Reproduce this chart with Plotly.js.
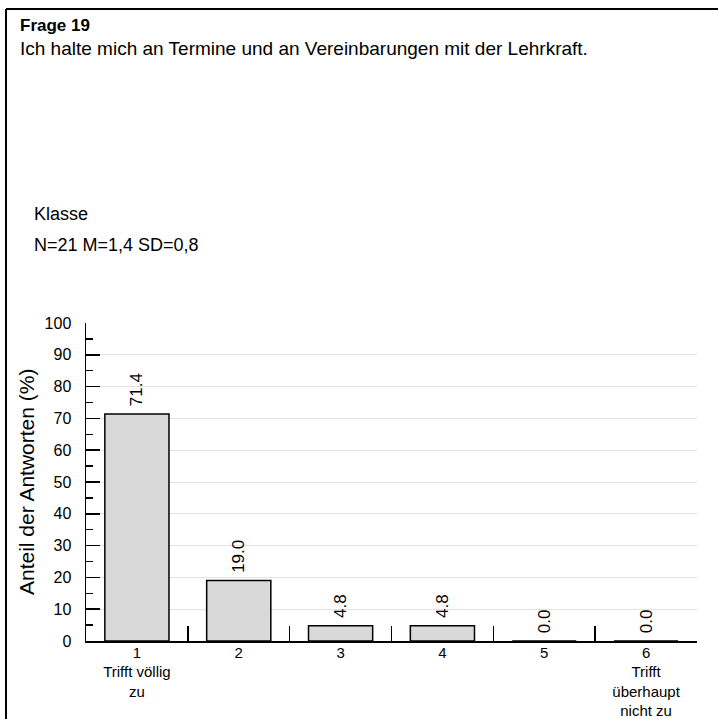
<!DOCTYPE html>
<html><head><meta charset="utf-8">
<script src="https://cdn.plot.ly/plotly-3.0.1.min.js"></script>
<style>body{margin:0;padding:0;background:#fff}#chart{width:718px;height:719px}</style>
</head><body><div id="chart"></div>
<script>
const categories = ["1","2","3","4","5","6"];
const tickLabels = ["1<br>Trifft völlig<br>zu","2","3","4","5","6<br>Trifft<br>überhaupt<br>nicht zu"];
const values = [71.4, 19.0, 4.8, 4.8, 0.0, 0.0];
const valueLabels = ["71.4","19.0","4.8","4.8","0.0","0.0"];
const questionTitle = "Frage 19";
const questionText = "Ich halte mich an Termine und an Vereinbarungen mit der Lehrkraft.";
const groupLabel = "Klasse";
const statsLabel = "N=21 M=1,4 SD=0,8";
const yTitle = "Anteil der Antworten (%)";

const L=86, R=21, T=323, B=78, W=718, H=719;
const pw=W-L-R, ph=H-T-B;
const px=x=>(x-L)/pw, py=y=>(H-B-y)/ph;
const FONT="Liberation Sans, Arial, sans-serif";

const trace = {
  type:'bar', x:categories, y:values, width:0.63,
  marker:{color:'#d9d9d9', line:{color:'#000', width:1.5}},
  text:valueLabels, texttemplate:'\u00a0%{text}', textposition:'outside', textangle:-90,
  textfont:{family:FONT, size:17, color:'#000'}, cliponaxis:false,
  hoverinfo:'none'
};
const layout = {
  width:W, height:H, margin:{l:L,r:R,t:T,b:B},
  paper_bgcolor:'#fff', plot_bgcolor:'#fff', showlegend:false,
  font:{family:FONT, color:'#000'},
  xaxis:{type:'category', tickvals:categories, ticktext:tickLabels, tickson:'boundaries',
    ticks:'inside', ticklen:15, tickwidth:1.5, tickcolor:'#000',
    showline:true, linecolor:'#000', linewidth:1.5, showgrid:false, ticklabelstandoff:-3,
    tickfont:{family:FONT,size:15,color:'#000'}, range:[-0.5,5.5], fixedrange:true},
  yaxis:{range:[0,100], dtick:10, ticks:'inside', ticklen:14, tickwidth:1.5, tickcolor:'#000',
    showline:true, linecolor:'#000', linewidth:1.5, showgrid:true, gridcolor:'#e3e3e3', gridwidth:1,
    zeroline:false, tickfont:{family:FONT,size:16,color:'#000'}, ticklabelstandoff:10,
    minor:{dtick:5, ticks:'inside', ticklen:7, tickwidth:1.5, tickcolor:'#000', showgrid:false}},
  annotations:[
    {text:'<b>'+questionTitle+'</b>', xref:'paper', yref:'paper', x:px(18), y:py(25), xanchor:'left', yanchor:'middle', showarrow:false, font:{size:17}},
    {text:questionText, xref:'paper', yref:'paper', x:px(18), y:py(48), xanchor:'left', yanchor:'middle', showarrow:false, font:{size:19}},
    {text:groupLabel, xref:'paper', yref:'paper', x:px(32), y:py(214), xanchor:'left', yanchor:'middle', showarrow:false, font:{size:18}},
    {text:statsLabel, xref:'paper', yref:'paper', x:px(32), y:py(245), xanchor:'left', yanchor:'middle', showarrow:false, font:{size:18}},
    {text:yTitle, xref:'paper', yref:'paper', x:px(26), y:0.5, xanchor:'center', yanchor:'middle', textangle:-90, showarrow:false, font:{size:21}}
  ],
  shapes:[
    {type:'line', xref:'paper', yref:'paper', x0:px(6), x1:px(720), y0:py(9), y1:py(9), line:{color:'#000', width:2}},
    {type:'line', xref:'paper', yref:'paper', x0:px(6), x1:px(6), y0:py(9), y1:py(722), line:{color:'#000', width:2}}
  ]
};
Plotly.newPlot('chart',[trace],layout,{displayModeBar:false,staticPlot:true});
</script></body></html>
